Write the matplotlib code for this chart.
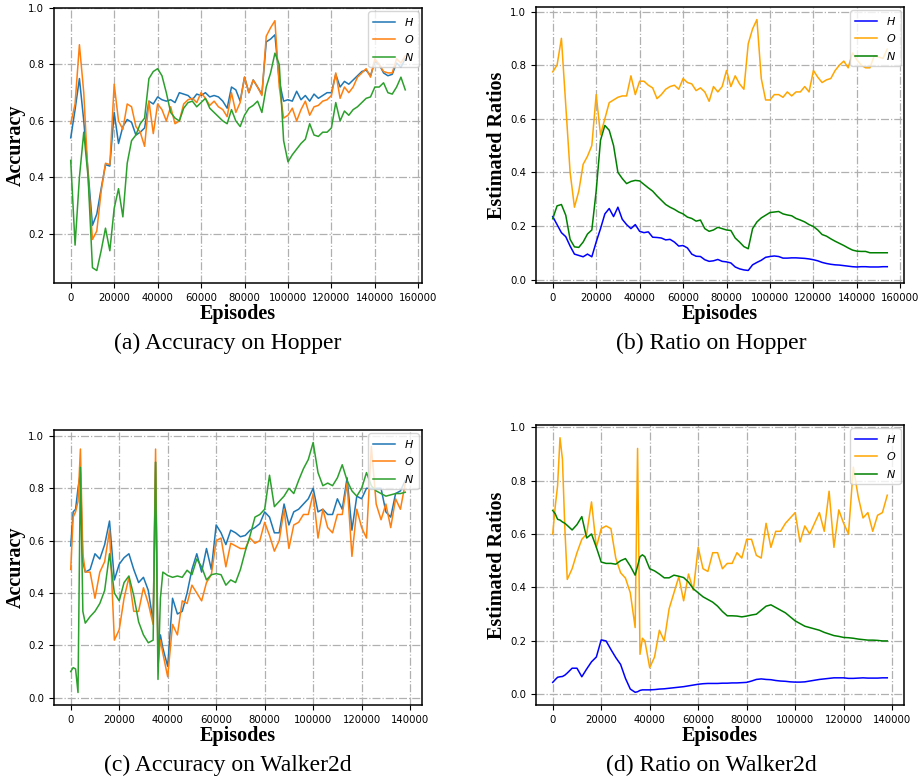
import matplotlib
matplotlib.use('Agg')
import matplotlib.pyplot as plt

# ---- data -----------------------------------------------------------------
hopper_ep = [0, 2000, 4000, 6000, 8000, 10000, 12000, 14000, 16000, 18000,
             20000, 22000, 24000, 26000, 28000, 30000, 32000, 34000, 36000, 38000,
             40000, 42000, 44000, 46000, 48000, 50000, 52000, 54000, 56000, 58000,
             60000, 62000, 64000, 66000, 68000, 70000, 72000, 74000, 76000, 78000,
             80000, 82000, 84000, 86000, 88000, 90000, 92000, 94000, 96000, 98000,
             100000, 102000, 104000, 106000, 108000, 110000, 112000, 114000, 116000, 118000,
             120000, 122000, 124000, 126000, 128000, 130000, 132000, 134000, 136000, 138000,
             140000, 142000, 144000, 146000, 148000, 150000, 152000, 154000]

hop_acc_H = [0.54, 0.64, 0.75, 0.60, 0.42, 0.23, 0.27, 0.36, 0.445, 0.44,
             0.63, 0.52, 0.58, 0.605, 0.595, 0.55, 0.56, 0.575, 0.67, 0.66,
             0.685, 0.675, 0.67, 0.675, 0.665, 0.70, 0.695, 0.69, 0.675, 0.695,
             0.69, 0.70, 0.685, 0.69, 0.685, 0.67, 0.645, 0.72, 0.71, 0.67,
             0.755, 0.70, 0.745, 0.72, 0.695, 0.88, 0.89, 0.905, 0.74, 0.67,
             0.675, 0.67, 0.705, 0.675, 0.69, 0.67, 0.695, 0.68, 0.69, 0.70,
             0.70, 0.765, 0.72, 0.74, 0.73, 0.745, 0.76, 0.775, 0.78, 0.76,
             0.81, 0.80, 0.77, 0.76, 0.765, 0.805, 0.79, 0.82]
hop_acc_O = [0.59, 0.66, 0.87, 0.70, 0.40, 0.18, 0.21, 0.35, 0.45, 0.445,
             0.73, 0.60, 0.57, 0.66, 0.65, 0.58, 0.56, 0.51, 0.67, 0.555,
             0.66, 0.64, 0.60, 0.65, 0.59, 0.60, 0.66, 0.675, 0.68, 0.665,
             0.70, 0.68, 0.655, 0.67, 0.65, 0.64, 0.615, 0.70, 0.63, 0.665,
             0.755, 0.70, 0.745, 0.72, 0.69, 0.90, 0.93, 0.955, 0.72, 0.61,
             0.62, 0.645, 0.60, 0.64, 0.67, 0.62, 0.65, 0.655, 0.67, 0.675,
             0.69, 0.77, 0.68, 0.72, 0.70, 0.72, 0.755, 0.77, 0.785, 0.755,
             0.82, 0.80, 0.775, 0.77, 0.77, 0.82, 0.805, 0.83]
hop_acc_N = [0.46, 0.16, 0.40, 0.56, 0.40, 0.08, 0.07, 0.14, 0.22, 0.14,
             0.29, 0.36, 0.26, 0.45, 0.53, 0.55, 0.59, 0.61, 0.75, 0.775,
             0.785, 0.76, 0.70, 0.63, 0.61, 0.60, 0.645, 0.665, 0.67, 0.65,
             0.665, 0.68, 0.645, 0.63, 0.615, 0.60, 0.59, 0.64, 0.60, 0.58,
             0.62, 0.645, 0.655, 0.67, 0.63, 0.72, 0.77, 0.84, 0.80, 0.53,
             0.455, 0.48, 0.50, 0.52, 0.535, 0.59, 0.55, 0.545, 0.56, 0.56,
             0.575, 0.665, 0.60, 0.635, 0.62, 0.64, 0.65, 0.665, 0.68, 0.685,
             0.72, 0.72, 0.735, 0.70, 0.695, 0.72, 0.755, 0.71]

hop_rat_H = [0.235, 0.205, 0.175, 0.16, 0.125, 0.095, 0.09, 0.085, 0.095, 0.085,
             0.14, 0.19, 0.245, 0.265, 0.235, 0.27, 0.225, 0.205, 0.19, 0.205,
             0.18, 0.175, 0.178, 0.158, 0.157, 0.155, 0.148, 0.15, 0.14, 0.125,
             0.127, 0.118, 0.095, 0.087, 0.086, 0.074, 0.068, 0.07, 0.075, 0.068,
             0.066, 0.062, 0.047, 0.04, 0.036, 0.034, 0.055, 0.064, 0.072, 0.083,
             0.086, 0.088, 0.086, 0.08, 0.08, 0.081, 0.081, 0.08, 0.079, 0.077,
             0.074, 0.07, 0.064, 0.06, 0.057, 0.055, 0.054, 0.052, 0.05, 0.048,
             0.047, 0.048, 0.048, 0.047, 0.047, 0.047, 0.048, 0.048]
hop_rat_O = [0.775, 0.80, 0.90, 0.65, 0.40, 0.27, 0.33, 0.43, 0.46, 0.50,
             0.69, 0.54, 0.60, 0.66, 0.67, 0.68, 0.685, 0.685, 0.76, 0.69,
             0.74, 0.74, 0.725, 0.715, 0.675, 0.69, 0.71, 0.72, 0.725, 0.71,
             0.75, 0.735, 0.73, 0.705, 0.715, 0.70, 0.665, 0.72, 0.70, 0.72,
             0.78, 0.72, 0.76, 0.73, 0.71, 0.88, 0.935, 0.97, 0.75, 0.67,
             0.67, 0.69, 0.69, 0.68, 0.70, 0.685, 0.70, 0.70, 0.72, 0.70,
             0.78, 0.755, 0.735, 0.745, 0.75, 0.78, 0.80, 0.815, 0.79, 0.845,
             0.82, 0.80, 0.79, 0.79, 0.835, 0.83, 0.825, 0.86]
hop_rat_N = [0.227, 0.275, 0.28, 0.24, 0.15, 0.122, 0.12, 0.14, 0.17, 0.185,
             0.33, 0.52, 0.575, 0.557, 0.50, 0.40, 0.377, 0.358, 0.366, 0.37,
             0.368, 0.355, 0.342, 0.33, 0.312, 0.296, 0.28, 0.27, 0.262, 0.252,
             0.245, 0.233, 0.228, 0.218, 0.222, 0.19, 0.18, 0.185, 0.195, 0.19,
             0.185, 0.183, 0.155, 0.14, 0.123, 0.115, 0.19, 0.215, 0.23, 0.24,
             0.25, 0.252, 0.254, 0.245, 0.241, 0.238, 0.228, 0.222, 0.215, 0.205,
             0.198, 0.185, 0.168, 0.162, 0.152, 0.143, 0.135, 0.127, 0.118, 0.11,
             0.106, 0.105, 0.105, 0.10, 0.10, 0.10, 0.10, 0.10]

walker_ep = [0, 1000, 2000, 3000, 4000, 5000, 6000,
             8000, 10000, 12000, 14000, 16000, 18000, 20000, 22000, 24000, 26000, 28000, 30000, 32000, 34000,
             35000, 36000, 37000, 38000,
             40000, 42000, 44000, 46000, 48000, 50000, 52000, 54000, 56000, 58000,
             60000, 62000, 64000, 66000, 68000, 70000, 72000, 74000, 76000, 78000,
             80000, 82000, 84000, 86000, 88000, 90000, 92000, 94000, 96000, 98000,
             100000, 102000, 104000, 106000, 108000, 110000, 112000, 114000, 116000, 118000,
             120000, 122000, 124000, 126000, 128000, 130000, 132000, 134000, 136000, 138000]

wal_acc_H = [0.58, 0.71, 0.72, 0.80, 0.86, 0.52, 0.48,
             0.49, 0.55, 0.53, 0.585, 0.675, 0.45, 0.51, 0.535, 0.55, 0.49, 0.44, 0.46, 0.41, 0.29,
             0.90, 0.18, 0.24, 0.19,
             0.12, 0.38, 0.32, 0.33, 0.40, 0.49, 0.55, 0.48, 0.57, 0.49,
             0.66, 0.63, 0.585, 0.64, 0.63, 0.615, 0.62, 0.64, 0.65, 0.665,
             0.71, 0.69, 0.63, 0.63, 0.74, 0.66, 0.71, 0.72, 0.74, 0.76,
             0.80, 0.71, 0.72, 0.70, 0.70, 0.76, 0.72, 0.84, 0.64, 0.77,
             0.76, 0.80, 0.80, 0.80, 0.80, 0.71, 0.69, 0.78, 0.79, 0.83]
wal_acc_O = [0.49, 0.69, 0.71, 0.75, 0.95, 0.55, 0.48,
             0.48, 0.38, 0.48, 0.52, 0.64, 0.22, 0.26, 0.38, 0.46, 0.33, 0.33, 0.42, 0.36, 0.28,
             0.95, 0.12, 0.22, 0.17,
             0.08, 0.28, 0.24, 0.37, 0.36, 0.43, 0.40, 0.37, 0.44, 0.47,
             0.60, 0.61, 0.50, 0.59, 0.58, 0.57, 0.57, 0.61, 0.59, 0.60,
             0.67, 0.62, 0.56, 0.60, 0.72, 0.57, 0.66, 0.67, 0.70, 0.70,
             0.78, 0.61, 0.72, 0.65, 0.63, 0.70, 0.70, 0.82, 0.54, 0.72,
             0.65, 0.61, 0.96, 0.74, 0.68, 0.74, 0.65, 0.76, 0.72, 0.82]
wal_acc_N = [0.10, 0.115, 0.11, 0.02, 0.88, 0.33, 0.285,
             0.31, 0.33, 0.36, 0.41, 0.55, 0.40, 0.37, 0.44, 0.465, 0.39, 0.29, 0.24, 0.21, 0.22,
             0.90, 0.07, 0.38, 0.48,
             0.467, 0.46, 0.465, 0.46, 0.487, 0.47, 0.53, 0.50, 0.45, 0.47,
             0.474, 0.47, 0.43, 0.45, 0.44, 0.49, 0.56, 0.62, 0.69, 0.70,
             0.72, 0.85, 0.73, 0.75, 0.77, 0.80, 0.78, 0.83, 0.875, 0.91,
             0.975, 0.86, 0.81, 0.82, 0.81, 0.84, 0.89, 0.83, 0.79, 0.77,
             0.80, 0.86, 0.81, 0.79, 0.78, 0.77, 0.775, 0.78, 0.78, 0.785]

wal_rat_H = [0.045, 0.055, 0.064, 0.066, 0.067, 0.072, 0.08,
             0.098, 0.098, 0.066, 0.095, 0.122, 0.14, 0.204, 0.20, 0.168, 0.138, 0.112, 0.06, 0.02, 0.008,
             0.01, 0.015, 0.017, 0.017,
             0.017, 0.018, 0.02, 0.021, 0.023, 0.025, 0.027, 0.029, 0.032, 0.035,
             0.038, 0.04, 0.041, 0.041, 0.041, 0.042, 0.042, 0.043, 0.043, 0.044,
             0.045, 0.05, 0.056, 0.058, 0.056, 0.055, 0.052, 0.05, 0.049, 0.047,
             0.046, 0.046, 0.047, 0.05, 0.053, 0.056, 0.058, 0.06, 0.062, 0.062,
             0.062, 0.06, 0.06, 0.061, 0.062, 0.061, 0.061, 0.061, 0.062, 0.062]
wal_rat_O = [0.60, 0.70, 0.78, 0.96, 0.88, 0.62, 0.43,
             0.47, 0.53, 0.58, 0.60, 0.72, 0.55, 0.62, 0.63, 0.62, 0.51, 0.455, 0.435, 0.38, 0.25,
             0.92, 0.15, 0.21, 0.20,
             0.10, 0.14, 0.24, 0.20, 0.32, 0.38, 0.44, 0.35, 0.45, 0.39,
             0.55, 0.47, 0.46, 0.53, 0.53, 0.47, 0.49, 0.49, 0.53, 0.51,
             0.58, 0.58, 0.52, 0.51, 0.64, 0.55, 0.61, 0.61, 0.64, 0.66,
             0.68, 0.57, 0.63, 0.60, 0.64, 0.68, 0.61, 0.76, 0.55, 0.69,
             0.64, 0.60, 0.85, 0.74, 0.66, 0.68, 0.61, 0.67, 0.68, 0.745]
wal_rat_N = [0.688, 0.676, 0.655, 0.652, 0.645, 0.64, 0.632,
             0.615, 0.635, 0.665, 0.585, 0.60, 0.55, 0.495, 0.49, 0.49, 0.487, 0.50, 0.508, 0.48, 0.446,
             0.48, 0.515, 0.522, 0.515,
             0.47, 0.462, 0.45, 0.436, 0.436, 0.446, 0.442, 0.437, 0.42, 0.395,
             0.38, 0.365, 0.355, 0.345, 0.33, 0.31, 0.294, 0.294, 0.293, 0.29,
             0.293, 0.297, 0.30, 0.315, 0.33, 0.335, 0.325, 0.315, 0.305, 0.29,
             0.275, 0.265, 0.255, 0.25, 0.245, 0.24, 0.232, 0.226, 0.22, 0.217,
             0.213, 0.212, 0.21, 0.207, 0.205, 0.203, 0.203, 0.202, 0.2, 0.2]

labels = ['$H$', '$O$', '$N$']
hop_ticks = [0, 20000, 40000, 60000, 80000, 100000, 120000, 140000, 160000]
wal_ticks = [0, 20000, 40000, 60000, 80000, 100000, 120000, 140000]
acc_yticks = [0.2, 0.4, 0.6, 0.8, 1.0]
all_yticks = [0.0, 0.2, 0.4, 0.6, 0.8, 1.0]
captions = ['(a) Accuracy on Hopper', '(b) Ratio on Hopper',
            '(c) Accuracy on Walker2d', '(d) Ratio on Walker2d']

# ---- figure ---------------------------------------------------------------
W, H = 921, 776
fig = plt.figure(figsize=(W / 100, H / 100), dpi=100)
serif = 'Liberation Serif'
tab_cols = ['tab:blue', 'tab:orange', 'tab:green']
pure_cols = ['blue', 'orange', 'green']


def make_ax(l, t, r, b):
    return fig.add_axes([l / W, 1 - b / H, (r - l) / W, (b - t) / H])


def panel(ax, x, series, colors, xticks, yticks, ylabel):
    for ys, c, lab in zip(series, colors, labels):
        ax.plot(x, ys, color=c, lw=1.1, label=lab)
    ax.set_xticks(xticks)
    ax.set_yticks(yticks)
    ax.tick_params(labelsize=7.3)
    ax.grid(True, linestyle='-.', color='#b0b0b0', lw=0.9)
    for s in ax.spines.values():
        s.set_linewidth(1.1)
    ax.set_xlabel('Episodes', fontfamily=serif, fontweight='bold', fontsize=14.5, labelpad=1)
    ax.set_ylabel(ylabel, fontfamily=serif, fontweight='bold', fontsize=14.5, labelpad=2)
    ax.legend(loc='upper right', fontsize=8, handlelength=2.0, borderaxespad=0.3)


ax_a = make_ax(54, 8, 422, 283)
panel(ax_a, hopper_ep, [hop_acc_H, hop_acc_O, hop_acc_N], tab_cols, hop_ticks, acc_yticks, 'Accuracy')
ax_b = make_ax(536, 7, 904, 283)
panel(ax_b, hopper_ep, [hop_rat_H, hop_rat_O, hop_rat_N], pure_cols, hop_ticks, all_yticks, 'Estimated Ratios')
ax_c = make_ax(54, 430, 422, 705)
panel(ax_c, walker_ep, [wal_acc_H, wal_acc_O, wal_acc_N], tab_cols, wal_ticks, all_yticks, 'Accuracy')
ax_d = make_ax(536, 425, 904, 705)
panel(ax_d, walker_ep, [wal_rat_H, wal_rat_O, wal_rat_N], pure_cols, wal_ticks, all_yticks, 'Estimated Ratios')

cap_pos = [(228, 343), (711, 343), (228, 765), (711, 765)]
for (cx, cy), txt in zip(cap_pos, captions):
    fig.text(cx / W, 1 - cy / H, txt, ha='center', va='center', fontfamily=serif, fontsize=17)

fig.savefig('out.png', dpi=100)
